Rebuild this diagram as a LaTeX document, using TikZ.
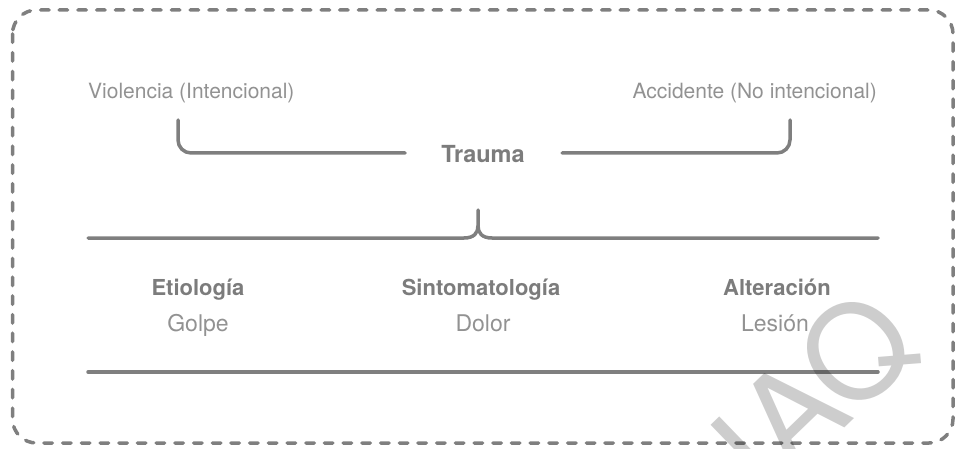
\documentclass[tikz,border=0pt]{standalone}
\usepackage{fontspec}
\setmainfont{TeX Gyre Heros}
\definecolor{linegray}{HTML}{7F7F7F}
\definecolor{textgray}{HTML}{929292}
\definecolor{headgray}{HTML}{7C7C7C}
\definecolor{wmgray}{HTML}{CDCDCD}
\begin{document}
\begin{tikzpicture}[x=1pt,y=-1pt,
  frame/.style={draw=linegray, line width=3.5pt, line cap=round, dash pattern=on 8.5pt off 10.2pt, rounded corners=24pt},
  rule/.style={draw=linegray, line width=3.5pt, line cap=round},
  lighttext/.style={text=textgray, font=\fontsize{21}{25}\selectfont, inner sep=0pt},
  valuetext/.style={text=textgray, font=\fontsize{23}{27}\selectfont, inner sep=0pt, anchor=base},
  headtext/.style={text=headgray, font=\bfseries\fontsize{22}{26}\selectfont, inner sep=0pt, anchor=base},
  watermark/.style={text=wmgray, blend mode=multiply, font=\fontsize{130}{130}\selectfont, inner sep=0pt}]
  \useasboundingbox (0,0) rectangle (965,449);

  % dashed outer frame
  \draw[frame] (12.5,10) rectangle (953,443);

  % the two kinds of trauma
  \node[lighttext, anchor=base west] (viol) at (88,99) {Violencia (Intencional)};
  \node[lighttext, anchor=base east] (acc) at (877,99) {Accidente (No intencional)};
  \node[headtext, font=\bfseries\fontsize{23.5}{27}\selectfont] (trauma) at (483,162) {Trauma};

  % bracket joining both kinds into Trauma
  \coordinate (lt) at (178,120);
  \coordinate (le) at (405,153);
  \coordinate (rs) at (562,153);
  \coordinate (rt) at (790,120);
  \draw[rule, rounded corners=13pt] (lt) |- (le);
  \draw[rule, rounded corners=13pt] (rs) -| (rt);

  % curly brace line
  \coordinate (bl) at (88,238);
  \coordinate (br) at (878,238);
  \coordinate (tip) at (478,210);
  \coordinate (cusp) at (478,226);
  \draw[rule] (bl) -- (464,238) .. controls (474,238) and (478,233) .. (cusp) -- (tip);
  \draw[rule] (cusp) .. controls (478,233) and (482,238) .. (492,238) -- (br);

  % three columns
  \node[headtext] (eti) at (198,295) {Etiología};
  \node[headtext] (sin) at (481,295) {Sintomatología};
  \node[headtext] (alt) at (777,295) {Alteración};
  \node[valuetext] (gol) at (198,331) {Golpe};
  \node[valuetext] (dol) at (483,331) {Dolor};
  \node[valuetext] (les) at (775,331) {Lesión};

  % closing rule
  \coordinate (ul) at (88,372);
  \coordinate (ur) at (878,372);
  \draw[rule] (ul) -- (ur);

  % watermark
  \node[watermark, rotate=44, anchor=center] (wm) at (815,394) {IAQ};
\end{tikzpicture}
\end{document}
